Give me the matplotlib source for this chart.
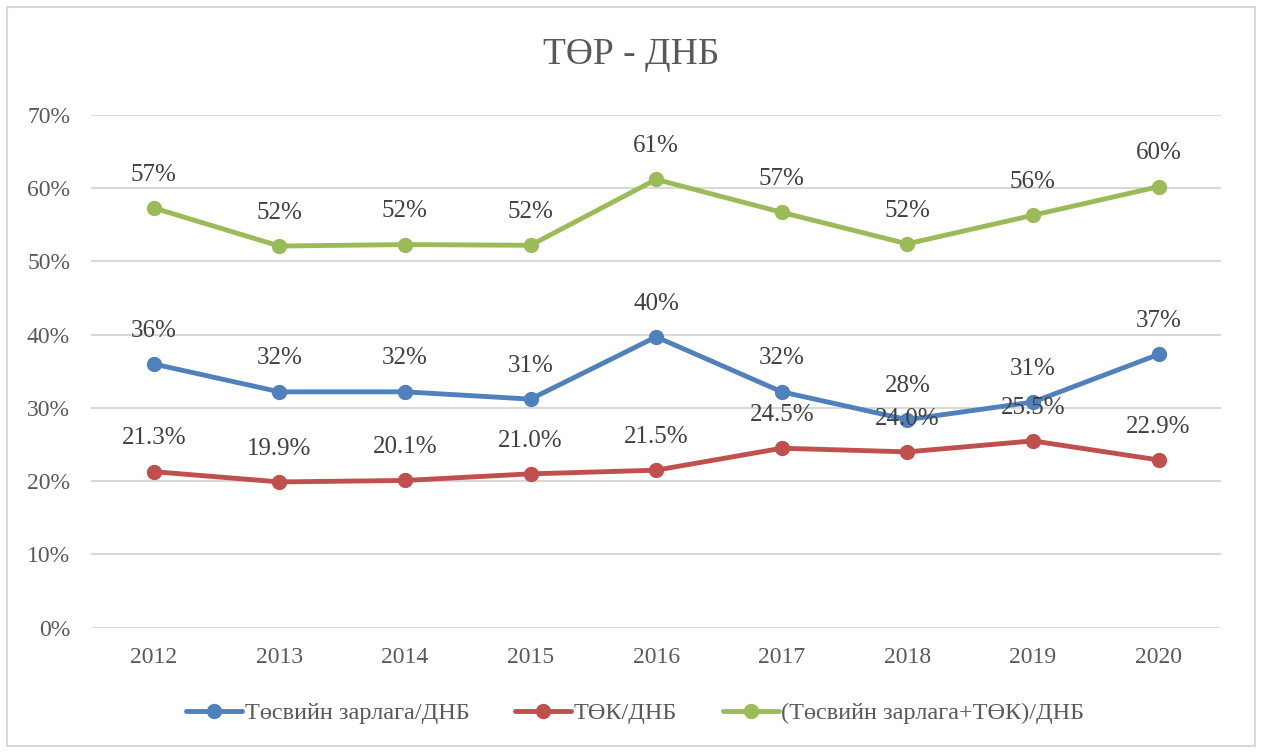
import matplotlib
matplotlib.use("Agg")
import matplotlib.pyplot as plt
from matplotlib.patches import Rectangle
from matplotlib.ticker import PercentFormatter

years = ["2012", "2013", "2014", "2015", "2016", "2017", "2018", "2019", "2020"]
budget = [36.0, 32.2, 32.2, 31.2, 39.7, 32.2, 28.4, 30.8, 37.3]
tok = [21.3, 19.9, 20.1, 21.0, 21.5, 24.5, 24.0, 25.5, 22.9]
total = [57.3, 52.1, 52.3, 52.2, 61.2, 56.7, 52.4, 56.3, 60.2]

series = [
    ("Төсвийн зарлага/ДНБ", budget, "#4F81BD", "{:.0f}%"),
    ("ТӨК/ДНБ", tok, "#C0504D", "{:.1f}%"),
    ("(Төсвийн зарлага+ТӨК)/ДНБ", total, "#9BBB59", "{:.0f}%"),
]

plt.rcParams['font.family'] = ['Liberation Serif', 'DejaVu Serif']
text_color = "#595959"

fig = plt.figure(figsize=(12.63, 7.53), dpi=100)
ax = fig.add_axes([0.072, 0.1664, 0.895, 0.681])

x = list(range(len(years)))
for name, vals, color, fmt in series:
    ax.plot(x, vals, color=color, lw=3.5, marker="o", ms=10, label=name,
            solid_capstyle="round")
    for xi, v in zip(x, vals):
        ax.annotate(fmt.format(v), (xi, v), xytext=(0, 24), textcoords="offset points",
                    ha="center", va="center", fontsize=18, color="#404040")

ax.set_xlim(-0.5, len(years) - 0.5)
ax.set_ylim(0, 70)
ax.set_yticks(range(0, 71, 10))
ax.yaxis.set_major_formatter(PercentFormatter(decimals=0))
ax.set_xticks(x)
ax.set_xticklabels(years)
ax.grid(axis="y", color="#D9D9D9", lw=1.5)
ax.set_axisbelow(True)
for s in ax.spines.values():
    s.set_visible(False)
ax.tick_params(length=0, labelsize=17, labelcolor=text_color, pad=14)
ax.tick_params(axis="y", pad=15)

fig.text(0.5, 0.927, "ТӨР - ДНБ", ha="center", va="center", fontsize=27, color=text_color)

leg = fig.legend(loc="center", bbox_to_anchor=(0.503, 0.053), ncol=3, frameon=False,
                 fontsize=17.5, handlelength=2.3, columnspacing=1.9, handletextpad=0.1)
for t in leg.get_texts():
    t.set_color(text_color)

fig.patches.append(Rectangle((7 / 1263, 7 / 753), 1248 / 1263, 739 / 753,
                             transform=fig.transFigure, fill=False,
                             edgecolor="#D9D9D9", lw=1.5))

fig.savefig("out.png", dpi=100)
